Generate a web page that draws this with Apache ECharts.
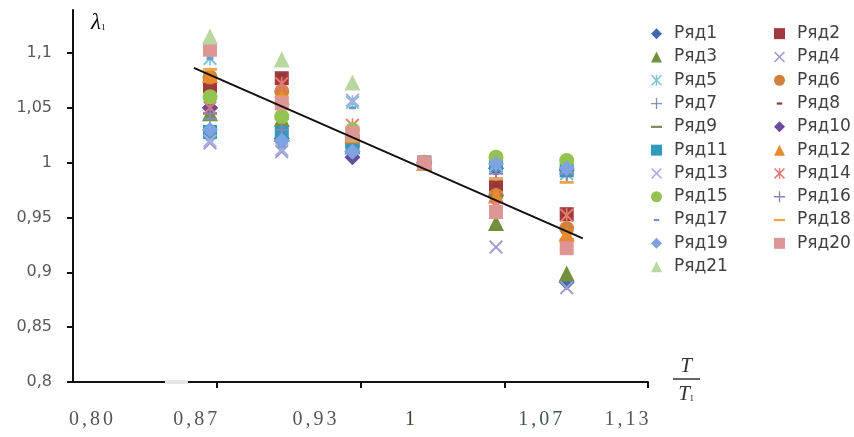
<!DOCTYPE html>
<html><head><meta charset="utf-8">
<script src="https://cdn.jsdelivr.net/npm/echarts@6/dist/echarts.min.js"></script>
<style>html,body{margin:0;padding:0;background:#fff}#c{width:854px;height:437px}</style>
</head><body><div id="c"></div>
<script>
// T/T1 values of the six columns
const xValues = [0.8, 0.867, 0.933, 1, 1.067, 1.133];
const xTickLabels = ['0,80', '0,87', '0,93', '1', '1,07', '1,13'];
const yTickValues = [0.8, 0.85, 0.9, 0.95, 1, 1.05, 1.1];
const seriesNames = ['Ряд1','Ряд2','Ряд3','Ряд4','Ряд5','Ряд6','Ряд7','Ряд8','Ряд9','Ряд10','Ряд11','Ряд12','Ряд13','Ряд14','Ряд15','Ряд16','Ряд17','Ряд18','Ряд19','Ряд20','Ряд21'];

const r1  = [1.050, 1.020, 1.010, 1, 0.970, 0.891];
const r2  = [1.070, 1.077, 1.020, 1, 0.980, 0.953];
const r3  = [1.045, 1.040, 1.015, 1, 0.945, 0.899];
const r4  = [1.018, 1.010, 1.020, 1, 0.923, 0.886];
const r5  = [1.095, 1.025, 1.055, 1, 0.995, 0.990];
const r6  = [1.078, 1.065, 1.020, 1, 0.970, 0.940];
const r7  = [1.040, 1.020, 1.010, 1, 0.990, 0.990];
const r8  = [1.075, 1.080, 1.025, 1, 0.980, 0.955];
const r9  = [1.045, 1.040, 1.015, 1, 0.970, 0.930];
const r10 = [1.050, 1.022, 1.005, 1, 0.995, 0.993];
const r11 = [1.028, 1.027, 1.014, 1, 0.998, 0.993];
const r12 = [1.080, 1.060, 1.025, 1, 0.970, 0.935];
const r13 = [1.020, 1.012, 1.057, 1, 0.998, 0.995];
const r14 = [1.050, 1.072, 1.034, 1, 0.960, 0.952];
const r15 = [1.060, 1.042, 1.030, 1, 1.005, 1.002];
const r16 = [1.045, 1.030, 1.010, 1, 0.990, 0.990];
const r17 = [1.095, 1.015, 1.050, 1, 0.998, 0.992];
const r18 = [1.085, 1.060, 1.020, 1, 0.985, 0.982];
const r19 = [1.030, 1.020, 1.010, 1, 0.999, 0.995];
const r20 = [1.103, 1.054, 1.027, 1, 0.955, 0.922];
const r21 = [1.115, 1.094, 1.073, null, null, null];
const seriesValues = [r1,r2,r3,r4,r5,r6,r7,r8,r9,r10,r11,r12,r13,r14,r15,r16,r17,r18,r19,r20,r21];

// linear trend line end points
const trendX = [0.785, 1.148];
const trendY = [1.0864, 0.931];

// ---- styling ----
const P_X = 'path://M1,0L5,4L9,0L10,1L6,5L10,9L9,10L5,6L1,10L0,9L4,5L0,1Z';
const P_STAR = 'path://M1,0L5,4L9,0L10,1L6,5L10,9L9,10L5,6L1,10L0,9L4,5L0,1ZM4.4,0L5.6,0L5.6,10L4.4,10Z';
const P_PLUS = 'path://M4.4,0L5.6,0L5.6,4.4L10,4.4L10,5.6L5.6,5.6L5.6,10L4.4,10L4.4,5.6L0,5.6L0,4.4L4.4,4.4Z';
const P_SDASH = 'path://M0,0M10,10M2.5,4L7.5,4L7.5,6L2.5,6Z';
const P_LDASH = 'path://M0,0M10,10M0,4L10,4L10,6L0,6Z';
const cycle = ['diamond','rect','triangle',P_X,P_STAR,'circle',P_PLUS,P_SDASH,P_LDASH];
const sizes = {diamond:16, rect:14, triangle:16, circle:15};
const colors = ['#4169b0','#a0393c','#71913a','#9c9cd0','#7cc2d2','#d0813d','#7f8fb5','#8e3a3a','#7a8c55',
  '#6a4c9c','#3399bb','#e98a2e','#a8aee0','#e57a70','#93c350','#9283b5','#6d98d0','#eda54c','#7ea3e0','#de9595','#b8d8a0'];

const series = seriesNames.map((name, i) => {
  const sym = cycle[i % cycle.length];
  const data = [];
  seriesValues[i].forEach((v, j) => { if (v !== null) data.push([xValues[j], v]); });
  return {
    name, type: 'scatter', xAxisIndex: 0, yAxisIndex: 0,
    symbol: sym, symbolKeepAspect: true,
    symbolSize: sizes[sym] || 14,
    itemStyle: { color: colors[i], opacity: 1 },
    emphasis: { disabled: true },
    data
  };
});
series.push({
  name: 'trend', type: 'line', xAxisIndex: 0, yAxisIndex: 0,
  showSymbol: false, symbol: 'none', silent: true,
  lineStyle: { color: '#111', width: 2 },
  data: trendX.map((x, i) => [x, trendY[i]]), z: 5
});

const labelPos = [0.125, 0.85, 1.68, 2.345, 3.25, 3.85];
const labelColor = ['g','g','g','o','t','g'];

const legendBase = {
  orient: 'vertical', top: 17, itemWidth: 11, itemHeight: 11, itemGap: 0,
  selectedMode: false, symbolKeepAspect: true,
  textStyle: { fontFamily: 'DejaVu Sans', fontSize: 17, color: '#404040', lineHeight: 23.3, padding: [0, 0, 0, 7] }
};

const chart = echarts.init(document.getElementById('c'), null, { renderer: 'canvas' });
chart.setOption({
  animation: false,
  backgroundColor: '#fff',
  grid: { left: 73, right: 206, top: 10, bottom: 55, containLabel: false },
  legend: [
    Object.assign({}, legendBase, { left: 646, data: seriesNames.filter((_, i) => i % 2 === 0) }),
    Object.assign({}, legendBase, { left: 769, data: seriesNames.filter((_, i) => i % 2 === 1) })
  ],
  xAxis: [
    { type: 'value', min: 0.6721, max: 1.2089, show: false, splitLine: { show: false } },
    {
      type: 'value', min: 0, max: 4, interval: 1, position: 'bottom',
      axisLine: { show: true, onZero: false, lineStyle: { color: '#111', width: 2 } },
      axisTick: { show: true, inside: false, length: 6, lineStyle: { color: '#111', width: 2 }, customValues: [1, 2, 3, 4] },
      splitLine: { show: false },
      axisLabel: {
        show: true, margin: 28, customValues: labelPos,
        formatter: (v) => {
          let k = 0, best = 1e9;
          labelPos.forEach((p, i) => { if (Math.abs(p - v) < best) { best = Math.abs(p - v); k = i; } });
          const st = labelColor[k];
          return xTickLabels[k].split('').map(ch => '{' + st + '|' + ch + '}').join('');
        },
        rich: {
          g: { fontFamily: 'Liberation Serif', fontSize: 20, color: '#555', padding: [0, 1.5] },
          o: { fontFamily: 'Liberation Serif', fontSize: 20, color: '#403d2c', padding: [0, 1.5] },
          t: { fontFamily: 'Liberation Serif', fontSize: 20, color: '#3e5a4e', padding: [0, 1.5] }
        }
      }
    }
  ],
  yAxis: {
    type: 'value', min: 0.8, max: 1.1392,
    axisLine: { show: true, onZero: false, lineStyle: { color: '#111', width: 2 } },
    axisTick: { show: true, inside: false, length: 6, lineStyle: { color: '#111', width: 2 }, customValues: yTickValues },
    splitLine: { show: false },
    axisLabel: {
      margin: 21, customValues: yTickValues,
      fontFamily: 'DejaVu Sans', fontSize: 16, color: '#595959',
      formatter: (v) => String(+v.toFixed(2)).replace('.', ',')
    }
  },
  graphic: [
    { type: 'rect', shape: { x: 165, y: 380, width: 23, height: 4 }, style: { fill: '#e6e6e6' }, z: 100 },
    { type: 'text', left: 91, top: 11, z: 100,
      style: { text: '{a|λ}{b|1}', rich: {
        a: { fontFamily: 'Liberation Serif', fontStyle: 'italic', fontSize: 23, color: '#333' },
        b: { fontFamily: 'Liberation Serif', fontSize: 9, color: '#333', padding: [11, 0, 0, 0] } } } },
    { type: 'text', x: 686, y: 366, z: 100,
      style: { text: 'T', fontFamily: 'Liberation Serif', fontStyle: 'italic', fontSize: 21, fill: '#333', align: 'center', verticalAlign: 'middle' } },
    { type: 'line', shape: { x1: 673, y1: 379, x2: 700, y2: 379 }, style: { stroke: '#333', lineWidth: 1.5 }, z: 100 },
    { type: 'text', x: 686, y: 394, z: 100,
      style: { text: '{a|T}{b|1}', align: 'center', verticalAlign: 'middle', rich: {
        a: { fontFamily: 'Liberation Serif', fontStyle: 'italic', fontSize: 21, fill: '#333', color: '#333' },
        b: { fontFamily: 'Liberation Serif', fontSize: 8, color: '#333', padding: [10, 0, 0, 0] } } } }
  ],
  series
});
</script>
</body></html>
